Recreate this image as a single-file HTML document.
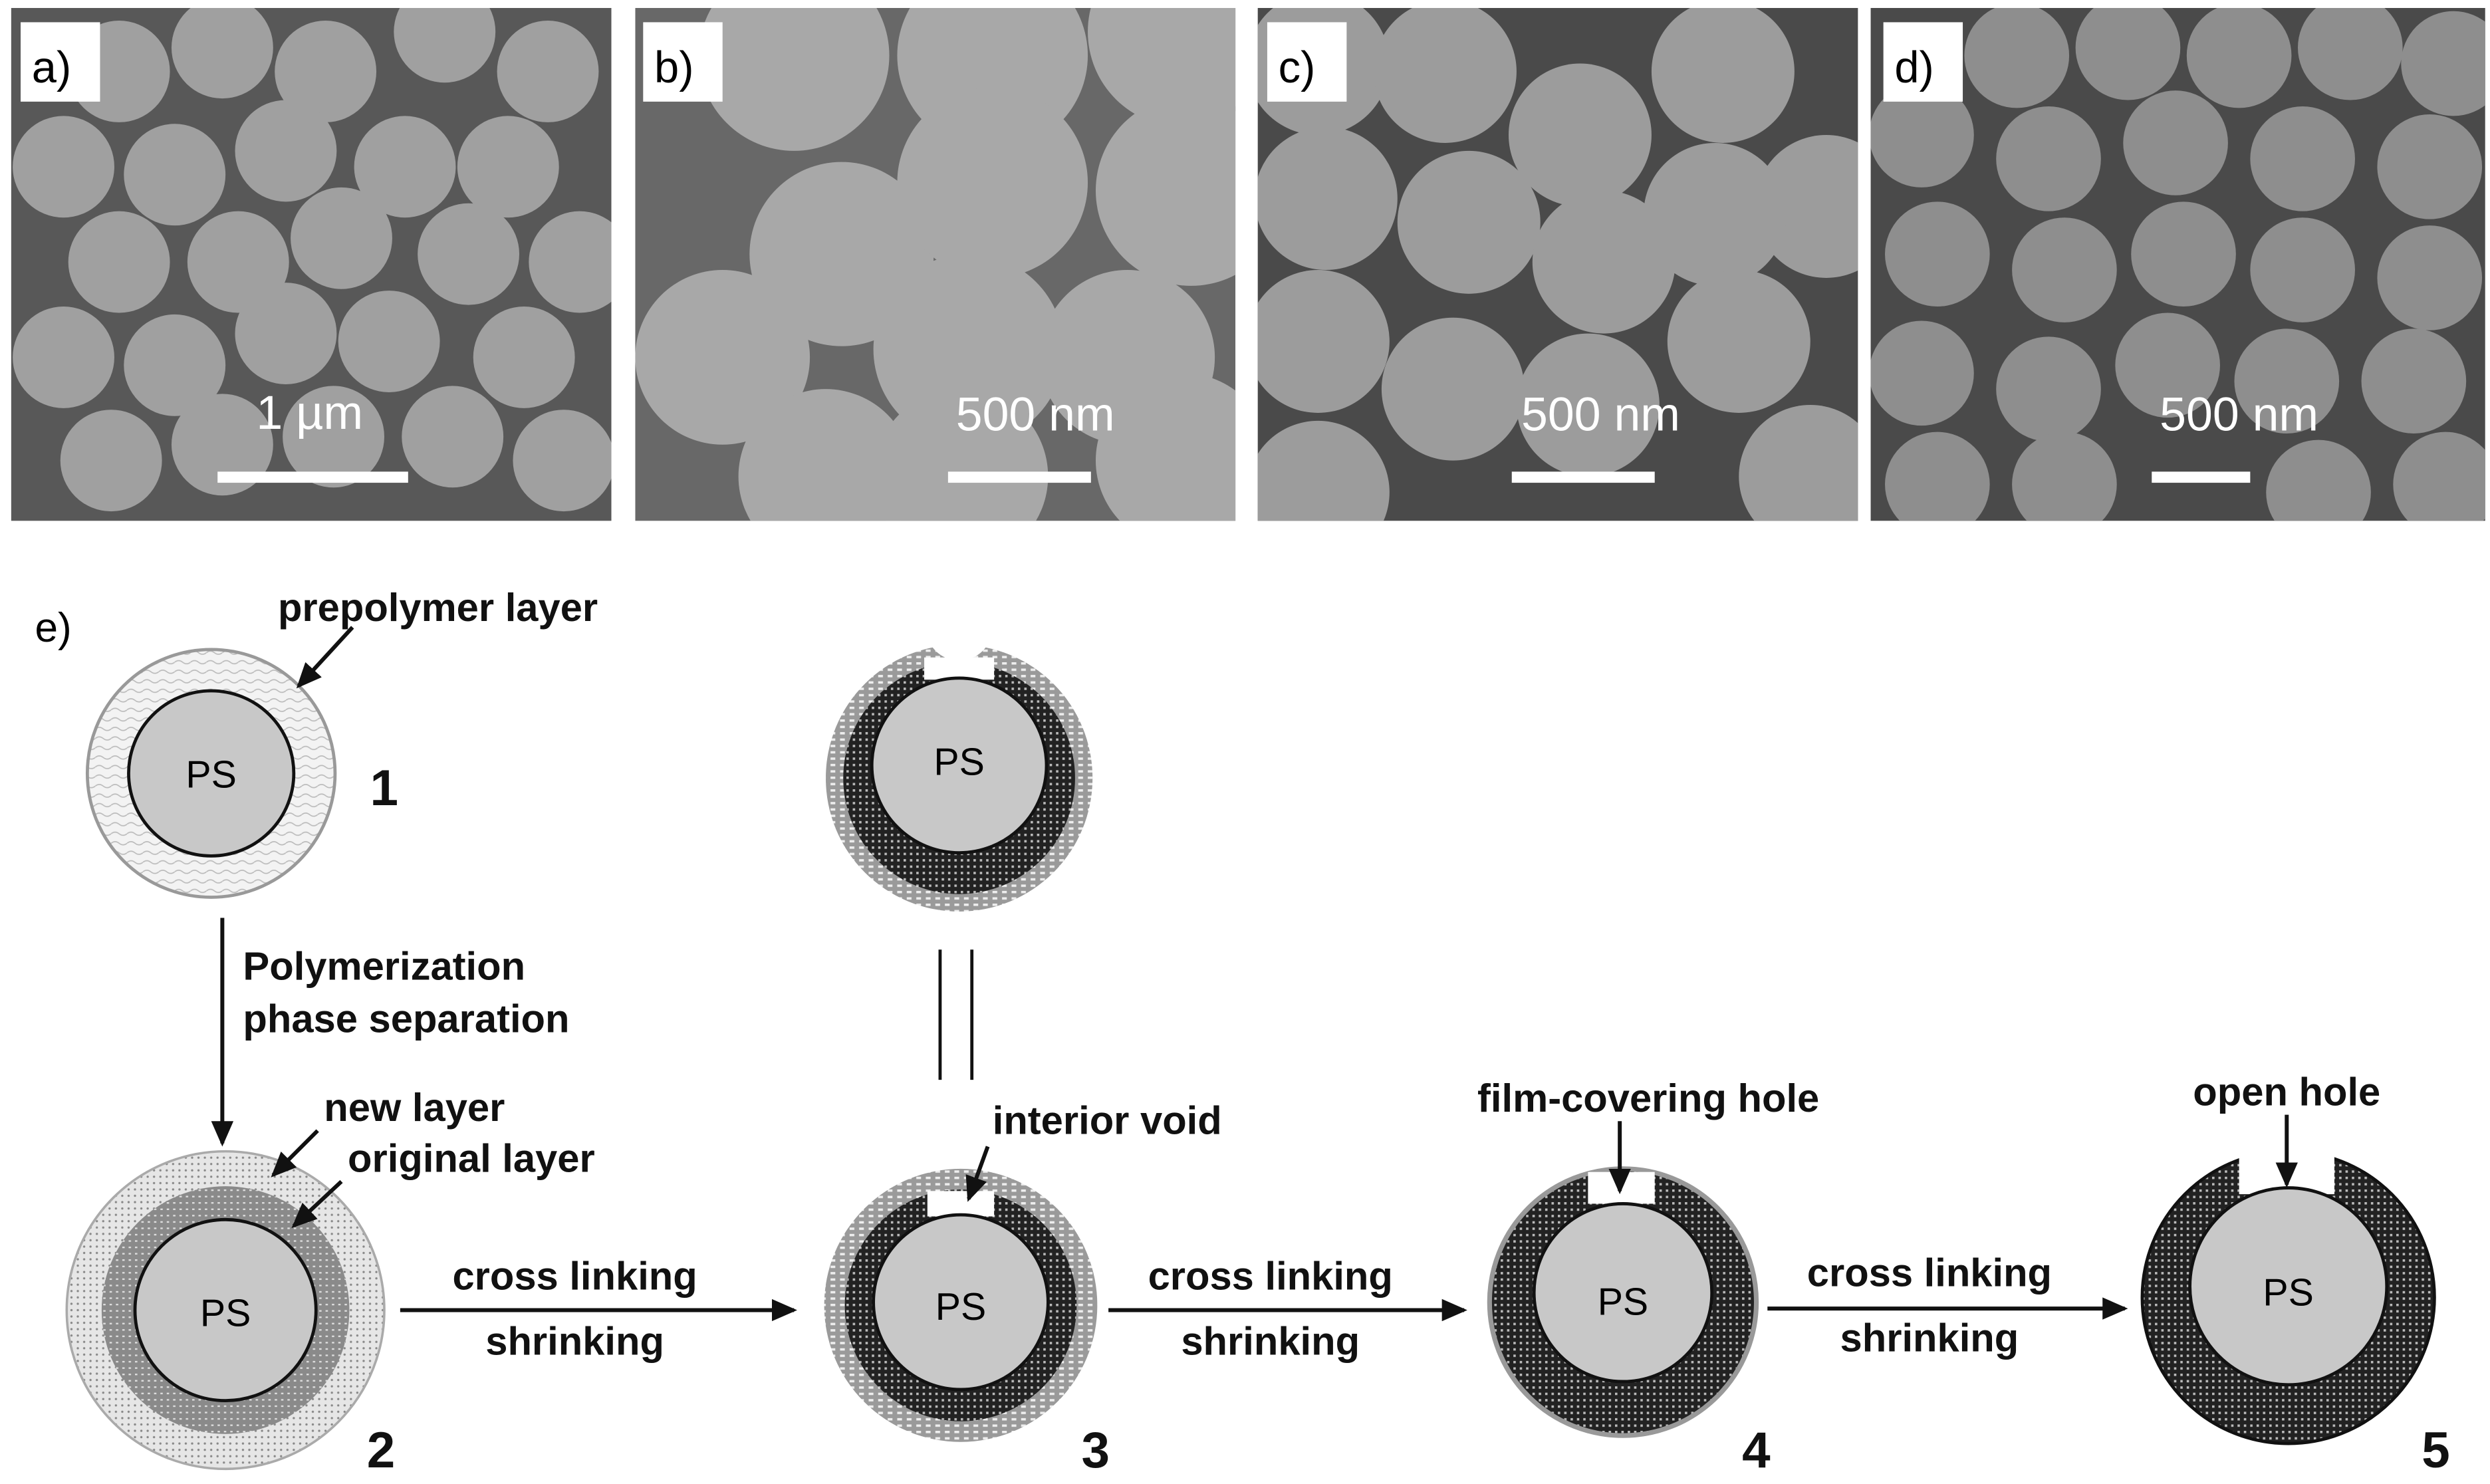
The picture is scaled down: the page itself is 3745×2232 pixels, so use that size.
<!DOCTYPE html>
<html><head><meta charset="utf-8"><style>
html,body{margin:0;padding:0;background:#fff}
svg{display:block}
text{font-family:"Liberation Sans",sans-serif}
</style></head><body>
<svg width="3745" height="2232" viewBox="0 0 1568 934.5" preserveAspectRatio="none" xmlns="http://www.w3.org/2000/svg">
<defs>
<pattern id="dk" width="4" height="4" patternUnits="userSpaceOnUse"><rect width="4" height="4" fill="#222"/><rect x="1" y="1" width="1.5" height="1.5" fill="#bbb"/></pattern>
<pattern id="lt" width="6" height="4" patternUnits="userSpaceOnUse"><rect width="6" height="4" fill="#9a9a9a"/><rect x="1" y="1" width="3" height="1.5" fill="#eee"/></pattern>
<pattern id="dot" width="4" height="4" patternUnits="userSpaceOnUse"><rect width="4" height="4" fill="#e6e6e6"/><circle cx="1" cy="1" r="0.7" fill="#888"/></pattern>
<pattern id="wav" width="10" height="6" patternUnits="userSpaceOnUse"><rect width="10" height="6" fill="#f3f3f3"/><path d="M0 3 Q2.5 1 5 3 T10 3" stroke="#bbb" fill="none" stroke-width="0.7"/></pattern>
<pattern id="mid" width="4" height="4" patternUnits="userSpaceOnUse"><rect width="4" height="4" fill="#8a8a8a"/><rect x="1" y="1" width="1.5" height="1" fill="#ddd"/></pattern>
<marker id="ah2" markerWidth="16" markerHeight="14" refX="14" refY="7" orient="auto" markerUnits="userSpaceOnUse"><path d="M0 0 L16 7 L0 14 Z" fill="#111"/></marker>
<clipPath id="ca"><rect x="7" y="5" width="378" height="323"/></clipPath>
<clipPath id="cb"><rect x="400" y="5" width="378" height="323"/></clipPath>
<clipPath id="cc"><rect x="792" y="5" width="378" height="323"/></clipPath>
<clipPath id="cd"><rect x="1178" y="5" width="387" height="323"/></clipPath>
</defs>

<g clip-path="url(#ca)">
<rect x="7" y="5" width="378" height="323" fill="#585858"/>
<g fill="#a0a0a0">
<circle cx="75" cy="45" r="32"/><circle cx="140" cy="30" r="32"/><circle cx="205" cy="45" r="32"/><circle cx="280" cy="20" r="32"/><circle cx="345" cy="45" r="32"/>
<circle cx="40" cy="105" r="32"/><circle cx="110" cy="110" r="32"/><circle cx="180" cy="95" r="32"/><circle cx="255" cy="105" r="32"/><circle cx="320" cy="105" r="32"/>
<circle cx="75" cy="165" r="32"/><circle cx="150" cy="165" r="32"/><circle cx="215" cy="150" r="32"/><circle cx="295" cy="160" r="32"/><circle cx="365" cy="165" r="32"/>
<circle cx="40" cy="225" r="32"/><circle cx="110" cy="230" r="32"/><circle cx="180" cy="210" r="32"/><circle cx="245" cy="215" r="32"/><circle cx="330" cy="225" r="32"/>
<circle cx="70" cy="290" r="32"/><circle cx="140" cy="280" r="32"/><circle cx="210" cy="275" r="32"/><circle cx="285" cy="275" r="32"/><circle cx="355" cy="290" r="32"/>
</g>
<rect x="137" y="297" width="120" height="7" fill="#fff"/>
<text x="195" y="270" fill="#fff" font-size="30" text-anchor="middle">1 µm</text>
</g>
<rect x="13" y="14" width="50" height="50" fill="#fff"/><text x="20" y="52" font-size="28">a)</text>

<g clip-path="url(#cb)">
<rect x="400" y="5" width="378" height="323" fill="#686868"/>
<g fill="#a8a8a8">
<circle cx="500" cy="35" r="60"/><circle cx="625" cy="35" r="60"/><circle cx="745" cy="20" r="60"/>
<circle cx="530" cy="160" r="58"/><circle cx="625" cy="115" r="60"/><circle cx="750" cy="120" r="60"/>
<circle cx="455" cy="225" r="55"/><circle cx="610" cy="220" r="60"/><circle cx="710" cy="225" r="55"/>
<circle cx="520" cy="300" r="55"/><circle cx="605" cy="300" r="55"/><circle cx="745" cy="290" r="55"/>
</g>
<rect x="597" y="297" width="90" height="7" fill="#fff"/>
<text x="652" y="271" fill="#fff" font-size="30" text-anchor="middle">500 nm</text>
</g>
<rect x="405" y="14" width="50" height="50" fill="#fff"/><text x="412" y="52" font-size="28">b)</text>

<g clip-path="url(#cc)">
<rect x="792" y="5" width="378" height="323" fill="#4a4a4a"/>
<g fill="#9c9c9c">
<circle cx="830" cy="40" r="45"/><circle cx="910" cy="45" r="45"/><circle cx="995" cy="85" r="45"/><circle cx="1085" cy="45" r="45"/><circle cx="1150" cy="130" r="45"/>
<circle cx="835" cy="125" r="45"/><circle cx="925" cy="140" r="45"/><circle cx="1010" cy="165" r="45"/><circle cx="1080" cy="135" r="45"/>
<circle cx="830" cy="215" r="45"/><circle cx="915" cy="245" r="45"/><circle cx="1000" cy="255" r="45"/><circle cx="1095" cy="215" r="45"/>
<circle cx="830" cy="310" r="45"/><circle cx="1140" cy="300" r="45"/>
</g>
<rect x="952" y="297" width="90" height="7" fill="#fff"/>
<text x="1008" y="271" fill="#fff" font-size="30" text-anchor="middle">500 nm</text>
</g>
<rect x="798" y="14" width="50" height="50" fill="#fff"/><text x="805" y="52" font-size="28">c)</text>

<g clip-path="url(#cd)">
<rect x="1178" y="5" width="387" height="323" fill="#4a4a4a"/>
<g fill="#8e8e8e">
<circle cx="1270" cy="35" r="33"/><circle cx="1340" cy="30" r="33"/><circle cx="1410" cy="35" r="33"/><circle cx="1480" cy="30" r="33"/><circle cx="1545" cy="40" r="33"/>
<circle cx="1210" cy="85" r="33"/><circle cx="1290" cy="100" r="33"/><circle cx="1370" cy="90" r="33"/><circle cx="1450" cy="100" r="33"/><circle cx="1530" cy="105" r="33"/>
<circle cx="1220" cy="160" r="33"/><circle cx="1300" cy="170" r="33"/><circle cx="1375" cy="160" r="33"/><circle cx="1450" cy="170" r="33"/><circle cx="1530" cy="175" r="33"/>
<circle cx="1210" cy="235" r="33"/><circle cx="1290" cy="245" r="33"/><circle cx="1365" cy="230" r="33"/><circle cx="1440" cy="240" r="33"/><circle cx="1520" cy="240" r="33"/>
<circle cx="1220" cy="305" r="33"/><circle cx="1300" cy="305" r="33"/><circle cx="1460" cy="310" r="33"/><circle cx="1540" cy="305" r="33"/>
</g>
<rect x="1355" y="297" width="62" height="7" fill="#fff"/>
<text x="1410" y="271" fill="#fff" font-size="30" text-anchor="middle">500 nm</text>
</g>
<rect x="1186" y="14" width="50" height="50" fill="#fff"/><text x="1193" y="52" font-size="28">d)</text>

<text x="22" y="404" font-size="26">e)</text>
<g font-weight="bold" font-size="25" fill="#111">
<text x="175" y="391">prepolymer layer</text>
<text x="153" y="617">Polymerization</text>
<text x="153" y="650">phase separation</text>
<text x="204" y="706">new layer</text>
<text x="219" y="738">original layer</text>
<text x="625" y="714">interior void</text>
<text x="1038" y="700" text-anchor="middle">film-covering hole</text>
<text x="1440" y="696" text-anchor="middle">open hole</text>
<text x="362" y="812" text-anchor="middle">cross linking</text>
<text x="362" y="853" text-anchor="middle">shrinking</text>
<text x="800" y="812" text-anchor="middle">cross linking</text>
<text x="800" y="853" text-anchor="middle">shrinking</text>
<text x="1215" y="810" text-anchor="middle">cross linking</text>
<text x="1215" y="851" text-anchor="middle">shrinking</text>
</g>
<g font-weight="bold" font-size="32" fill="#111">
<text x="233" y="507">1</text><text x="231" y="924">2</text><text x="681" y="924">3</text><text x="1097" y="924">4</text><text x="1525" y="924">5</text>
</g>

<circle cx="133" cy="487" r="78" fill="url(#wav)" stroke="#999" stroke-width="2"/>
<circle cx="133" cy="487" r="52" fill="#c8c8c8" stroke="#111" stroke-width="2"/>
<text x="133" y="496" font-size="24" text-anchor="middle">PS</text>

<circle cx="142" cy="825" r="100" fill="url(#dot)" stroke="#aaa" stroke-width="1.5"/>
<circle cx="142" cy="825" r="78" fill="url(#mid)"/>
<circle cx="142" cy="825" r="57" fill="#c8c8c8" stroke="#111" stroke-width="2"/>
<text x="142" y="835" font-size="24" text-anchor="middle">PS</text>

<circle cx="604" cy="490" r="84" fill="url(#lt)"/>
<circle cx="604" cy="490" r="73" fill="url(#dk)"/>
<rect x="582" y="414" width="44" height="14" fill="#fff"/>
<circle cx="604" cy="395" r="21" fill="#fff"/>
<circle cx="604" cy="482" r="55" fill="#c8c8c8" stroke="#111" stroke-width="2"/>
<text x="604" y="488" font-size="24" text-anchor="middle">PS</text>
<line x1="592" y1="598" x2="592" y2="680" stroke="#111" stroke-width="2"/>
<line x1="612" y1="598" x2="612" y2="680" stroke="#111" stroke-width="2"/>

<circle cx="605" cy="822" r="86" fill="url(#lt)"/>
<circle cx="605" cy="822" r="73" fill="url(#dk)"/>
<rect x="584" y="750" width="42" height="16" fill="#fff"/>
<circle cx="605" cy="820" r="55" fill="#c8c8c8" stroke="#111" stroke-width="2"/>
<text x="605" y="831" font-size="24" text-anchor="middle">PS</text>

<circle cx="1022" cy="820" r="84" fill="url(#dk)" stroke="#999" stroke-width="3"/>
<rect x="1000" y="738" width="42" height="20" fill="#fff"/>
<circle cx="1022" cy="814" r="56" fill="#c8c8c8" stroke="#111" stroke-width="2"/>
<text x="1022" y="828" font-size="24" text-anchor="middle">PS</text>

<circle cx="1441" cy="817" r="92" fill="url(#dk)" stroke="#111" stroke-width="2"/>
<rect x="1410" y="722" width="60" height="30" fill="#fff"/>
<circle cx="1441" cy="810" r="62" fill="#c8c8c8" stroke="#111" stroke-width="2"/>
<text x="1441" y="822" font-size="24" text-anchor="middle">PS</text>

<g stroke="#111" stroke-width="2.5" fill="none">
<line x1="222" y1="395" x2="188" y2="432" marker-end="url(#ah2)"/>
<line x1="140" y1="578" x2="140" y2="720" marker-end="url(#ah2)"/>
<line x1="200" y1="712" x2="172" y2="740" marker-end="url(#ah2)"/>
<line x1="215" y1="744" x2="185" y2="772" marker-end="url(#ah2)"/>
<line x1="622" y1="722" x2="610" y2="755" marker-end="url(#ah2)"/>
<line x1="1020" y1="706" x2="1020" y2="750" marker-end="url(#ah2)"/>
<line x1="1440" y1="702" x2="1440" y2="746" marker-end="url(#ah2)"/>
<line x1="252" y1="825" x2="500" y2="825" marker-end="url(#ah2)"/>
<line x1="698" y1="825" x2="922" y2="825" marker-end="url(#ah2)"/>
<line x1="1113" y1="824" x2="1338" y2="824" marker-end="url(#ah2)"/>
</g>
</svg>
</body></html>
